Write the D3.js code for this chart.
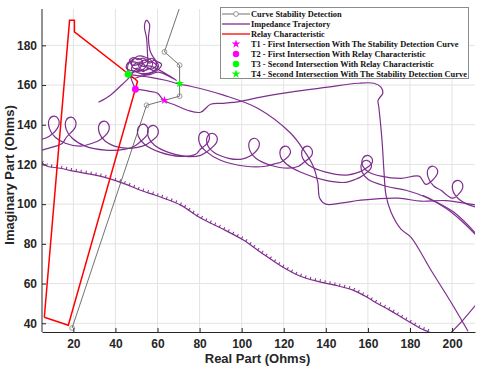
<!DOCTYPE html>
<html>
<head>
<meta charset="utf-8">
<script src="https://cdn.jsdelivr.net/npm/d3@7"></script>
<style>
  body { margin: 0; background: #fff; }
  .tick text { font-family: "Liberation Sans", Arial, sans-serif; font-weight: bold; font-size: 12px; fill: #262626; }
  .legend text { font-family: "Liberation Serif", "Times New Roman", serif; font-weight: bold; font-size: 8.4px; fill: #111; }
</style>
</head>
<body>
<svg id="chart" width="480" height="369"></svg>
<script>
// tick values
const xTicks = [20, 40, 60, 80, 100, 120, 140, 160, 180, 200];
const yTicks = [40, 60, 80, 100, 120, 140, 160, 180];

// relay characteristic (closed polygon)
const relayChar = [[6.2, 43], [17.6, 39], [50.5, 161.8], [49.6, 162.8], [20.5, 186.8], [20.5, 192.6], [18.2, 192.6], [6.2, 43]];

// stability detection curve
const stabilityCurve = [[19.4, 37.6], [54.8, 149.8], [70.5, 154.4], [70.5, 170], [63.3, 176.7], [72.8, 206]];

const trajLower = [[5.2, 120.6], [7.6, 119.1], [13.8, 118.1], [20, 116.6], [28.1, 115.1], [36.2, 113.1], [44.8, 110.1], [51.9, 107.0],
  [59, 104.5], [62.9, 103.0], [71, 99.5], [80.5, 93], [90, 88], [101, 81.8], [109, 75.8], [119.5, 68.3], [127.6, 63.8], [135.7, 61.2],
  [144.3, 59.2], [152.9, 56.7], [158.6, 53.7], [164.3, 50.1], [170.5, 46.5], [175.2, 43.5], [180, 40.5], [184.8, 37.5], [188.1, 36], [190.5, 35]];

const trajLoopsA = [[5.2, 132.7], [8.6, 134.2], [12.9, 139.2], [12.9, 142.8], [11.0, 144.3], [8.6, 142.8], [8.6, 138.2], [11.4, 133.7],
  [16.2, 130.7], [23.3, 129.2], [29.0, 130.7], [32.4, 132.2], [36.7, 136.7], [36.7, 140.3], [34.8, 141.8], [32.4, 140.3], [32.4, 135.7], [35.2, 131.7],
  [41.4, 128.7], [48.1, 128.2], [52.9, 129.2], [55.7, 130.7], [60.0, 134.7], [60.0, 138.2], [58.1, 139.7], [55.7, 138.2], [55.7, 133.7], [58.6, 129.7],
  [65.2, 126.1], [73.3, 124.1], [80.5, 124.6], [83.8, 126.7], [88.1, 131.2], [88.1, 134.2], [86.2, 135.7], [83.8, 134.2], [83.8, 129.7], [86.7, 126.1],
  [93.8, 123.1], [99.5, 122.6], [103.8, 124.1], [108.1, 128.7], [108.1, 131.7], [106.2, 133.2], [103.8, 131.7], [103.8, 127.2], [106.7, 123.1],
  [113.8, 119.6], [121.9, 118.1], [127.1, 119.1], [129.0, 120.6], [133.3, 124.6], [133.3, 127.7], [131.4, 129.2], [129.0, 127.7], [129.0, 123.1], [131.9, 119.6],
  [140.0, 116.1], [149.5, 114.6], [155.7, 116.1], [157.6, 117.1], [161.9, 120.6], [161.9, 123.1], [160.0, 124.6], [157.6, 123.1], [157.6, 119.1], [160.5, 116.1],
  [166.2, 114.1], [175.7, 113.0], [184.3, 114.1], [187.6, 110.0], [192.9, 115.1], [192.9, 117.6], [191.0, 119.1], [188.6, 117.6], [188.6, 113.6], [191.4, 109.0],
  [194.8, 107.0], [197.6, 104.5], [200.5, 103.0], [204.8, 107.5], [204.8, 110.5], [202.9, 112.0], [200.5, 110.5], [200.5, 106.5], [203.3, 102.5],
  [207.1, 100.0], [211.9, 98.4]];

const trajLoopsB = [[5.2, 127.2], [10.0, 128.7], [14.8, 130.7], [16.7, 133.7], [20.9, 138.7], [20.9, 142.3], [19.0, 143.8], [16.6, 142.3], [16.6, 137.7], [19.5, 133.2],
  [25.7, 129.2], [35.2, 127.2], [44.8, 127.7], [49.0, 129.2], [51.0, 130.7], [55.2, 135.2], [55.2, 138.7], [53.3, 140.3], [50.9, 138.7], [50.9, 134.2], [53.8, 130.2],
  [61.4, 126.1], [71.0, 124.1], [78.1, 125.1], [80.0, 127.2], [84.3, 131.7], [84.3, 135.2], [82.4, 136.7], [80.0, 135.2], [80.0, 130.7], [82.9, 126.7],
  [90.0, 122.1], [101.9, 119.1], [111.4, 119.1], [116.7, 120.6], [118.6, 121.1], [122.9, 125.1], [122.9, 127.7], [121.0, 129.2], [118.6, 127.7], [118.6, 123.6], [121.4, 120.1],
  [128.1, 116.1], [140.0, 112.0], [149.5, 111.0], [155.2, 113.0], [157.1, 114.1], [161.4, 118.1], [161.4, 120.6], [159.5, 122.1], [157.1, 120.6], [157.1, 116.6], [160.0, 112.5],
  [168.6, 109.0], [178.1, 107.0], [187.6, 103.5], [197.1, 97.9], [205.2, 90.9], [212.4, 83.3]];

const trajRise = [[49.5, 157.9], [55.7, 156.9], [60.0, 155.9], [62.9, 152.3], [68.6, 149.8], [74.3, 147.3], [80.5, 146.3], [85.2, 150.3], [91.4, 150.8],
  [99.5, 151.8], [109.0, 153.9], [123.3, 156.4], [140.9, 158.9], [155.2, 160.9], [162.9, 160.9], [166.2, 158.9], [167.1, 155.9], [164.8, 152.3], [165.2, 148.8],
  [166.7, 132.2], [167.6, 117.1], [168.6, 104.5], [171.0, 95.9], [175.7, 87.4], [180.5, 83.3], [190.0, 66.7], [199.5, 50.6], [207.6, 36.0]];

const trajFall = [[46.2, 165.4], [56.7, 163.9], [63.8, 162.4], [70.5, 160.4], [75.7, 159.4], [91.4, 154.9], [107.6, 148.3], [123.3, 135.7], [129.5, 127.2],
  [133.8, 119.6], [136.2, 111.0], [137.1, 103.0], [140.0, 100.0], [147.1, 100.5], [156.7, 102.0], [174.3, 103.0], [185.2, 101.5], [197.1, 101.8], [211.4, 99.5]];

const trajCluster = [[49.5, 157.9], [48.1, 161.4], [47.1, 164.4], [45.7, 168.5], [47.1, 172.0], [50.0, 173.5], [52.9, 172.0], [51.9, 169.0], [48.6, 168.5],
  [47.6, 171.0], [50.5, 174.5], [54.3, 174.0], [57.6, 171.5], [56.7, 168.5], [52.9, 167.5], [51.0, 170.0], [53.8, 172.5],
  [56.2, 171.0], [58.6, 172.5], [59.5, 170.0], [57.1, 168.0], [54.3, 169.5], [52.4, 171.5], [49.0, 170.5], [47.6, 168.0], [50.0, 166.8],
  [53.3, 168.0], [55.2, 170.5], [55.2, 176.5], [54.8, 183.6],
  [53.8, 189.6], [54.8, 192.6], [56.2, 190.6], [55.7, 183.6], [56.7, 176.5], [59.0, 172.5], [60.5, 169.5], [57.6, 166.5], [53.8, 165.4], [50.0, 166.5],
  [45.2, 168.5], [46.2, 171.5], [49.5, 171.5], [52.9, 169.5], [56.7, 169.5], [69.0, 162.4], [60.5, 166.5], [56.7, 165.4], [51.9, 164.4], [49.0, 163.4], [46.2, 165.4]];

const trajCluster2 = [[47.6, 166.0], [50.5, 168.0], [53.3, 166.8], [55.7, 168.5], [58.1, 167.2], [60.0, 169.0], [58.6, 171.0], [55.7, 172.0], [53.3, 173.5],
  [50.5, 172.8], [48.6, 173.8], [46.7, 172.5], [48.1, 170.0], [51.4, 170.5], [54.3, 171.5], [57.1, 173.5], [59.5, 172.0], [61.9, 170.5], [60.0, 167.5],
  [56.2, 166.0], [52.4, 165.8]];

const trajTail = [[31.9, 151.3], [37.6, 154.9], [43.3, 160.4], [46.2, 163.4], [48.6, 166.5], [51.9, 167.5]];
const trajRight = [[186, 104.5], [190, 102.5], [200.9, 95.9], [211.5, 85]];
const trajBottomRight = [[199.5, 35.3], [205.5, 42], [211.5, 49.5]];

// intersection points
const intersections = [
  { label: "T1 - First Intersection With The Stability Detection Curve", x: 63.3, y: 152.3, color: "#ff00ff", shape: "star" },
  { label: "T2 - First Intersection With Relay Characteristic", x: 49.5, y: 157.9, color: "#ff00ff", shape: "circle" },
  { label: "T3 - Second Intersection With Relay Characteristic", x: 46.0, y: 165.4, color: "#00ff00", shape: "circle" },
  { label: "T4 - Second Intersection With The Stability Detection Curve", x: 70.5, y: 160.8, color: "#00ff00", shape: "star" }
];

const purple = "#7e2f8e";
const margin = { top: 9, right: 5, bottom: 37, left: 42 };
const width = 480 - margin.left - margin.right;
const height = 369 - margin.top - margin.bottom;

const svg = d3.select("#chart");
const g = svg.append("g").attr("transform", `translate(${margin.left},${margin.top})`);

const x = d3.scaleLinear().domain([5.1, 210.9]).range([0, width]);
const y = d3.scaleLinear().domain([35.6, 198.3]).range([height, 0]);

g.append("clipPath").attr("id", "clip")
  .append("rect").attr("width", width).attr("height", height);

// grid
g.append("g").selectAll("line").data(xTicks).join("line")
  .attr("x1", d => x(d)).attr("x2", d => x(d)).attr("y1", 0).attr("y2", height)
  .attr("stroke", "#e3e3e3");
g.append("g").selectAll("line").data(yTicks).join("line")
  .attr("y1", d => y(d)).attr("y2", d => y(d)).attr("x1", 0).attr("x2", width)
  .attr("stroke", "#e3e3e3");

const plot = g.append("g").attr("clip-path", "url(#clip)");

const smooth = d3.line().x(d => x(d[0])).y(d => y(d[1])).curve(d3.curveCatmullRom.alpha(0.5));
const straight = d3.line().x(d => x(d[0])).y(d => y(d[1]));

// trajectory
[trajLoopsA, trajLoopsB, trajRise, trajFall, trajCluster, trajCluster2, trajTail, trajRight, trajBottomRight, trajLower].forEach(seg => {
  plot.append("path").attr("d", smooth(seg))
    .attr("fill", "none").attr("stroke", purple).attr("stroke-width", 1.2);
});
// little loops along the lower branch
plot.append("path").attr("d", smooth(trajLower))
  .attr("fill", "none").attr("stroke", purple).attr("stroke-width", 3)
  .attr("stroke-dasharray", "1 4").attr("transform", "translate(0,-1.3)");

// relay characteristic
plot.append("path").attr("d", straight(relayChar))
  .attr("fill", "none").attr("stroke", "#ff0000").attr("stroke-width", 1.5);

// stability detection curve
plot.append("path").attr("d", straight(stabilityCurve))
  .attr("fill", "none").attr("stroke", "#4d4d4d").attr("stroke-width", 0.8);
plot.append("g").selectAll("circle").data(stabilityCurve).join("circle")
  .attr("cx", d => x(d[0])).attr("cy", d => y(d[1])).attr("r", 2.4)
  .attr("fill", "none").attr("stroke", "#7f7f7f").attr("stroke-width", 0.8);

// intersection markers
const star = d3.symbol().type(d3.symbolStar).size(24);
plot.append("g").selectAll("path").data(intersections).join("path")
  .attr("d", d => d.shape === "star" ? star() : d3.symbol().type(d3.symbolCircle).size(38)())
  .attr("transform", d => `translate(${x(d.x)},${y(d.y)})`)
  .attr("fill", d => d.color);

// axes
const xAxis = g.append("g").attr("transform", `translate(0,${height})`)
  .call(d3.axisBottom(x).tickValues(xTicks).tickSize(-4).tickSizeOuter(0).tickPadding(7.5));
const yAxis = g.append("g")
  .call(d3.axisLeft(y).tickValues(yTicks).tickSize(-4).tickSizeOuter(0).tickPadding(5));
[xAxis, yAxis].forEach(a => {
  a.select(".domain").attr("stroke", "#262626");
  a.selectAll(".tick line").attr("stroke", "#262626");
});
yAxis.select(".domain").attr("d", `M0,0V${height}`);

svg.append("text").attr("x", 257.5).attr("y", 363).attr("text-anchor", "middle")
  .style("font-family", "Liberation Sans, Arial, sans-serif").style("font-weight", "bold").style("font-size", "13px")
  .attr("fill", "#262626").text("Real Part (Ohms)");
svg.append("text").attr("transform", "translate(14,175) rotate(-90)").attr("text-anchor", "middle")
  .style("font-family", "Liberation Sans, Arial, sans-serif").style("font-weight", "bold").style("font-size", "13px")
  .attr("fill", "#262626").text("Imaginary Part (Ohms)");

// legend
const legend = svg.append("g").attr("class", "legend");
legend.append("rect").attr("x", 220.5).attr("y", 7.5).attr("width", 248).attr("height", 71)
  .attr("fill", "#fff").attr("stroke", "#8c8c8c");

const lineItems = [
  { label: "Curve Stability Detection", color: "#4d4d4d" },
  { label: "Impedance Trajectory", color: purple },
  { label: "Relay Characteristic", color: "#ff0000" }
];
const rowY = i => 14 + i * 10;

lineItems.forEach((d, i) => {
  legend.append("line").attr("x1", 222).attr("x2", 250).attr("y1", rowY(i)).attr("y2", rowY(i))
    .attr("stroke", d.color).attr("stroke-width", i === 0 ? 0.8 : 1.3);
  legend.append("text").attr("x", 251).attr("y", rowY(i)).attr("dy", "0.33em").text(d.label);
});
legend.append("circle").attr("cx", 236).attr("cy", rowY(0)).attr("r", 2.4)
  .attr("fill", "#fff").attr("stroke", "#7f7f7f").attr("stroke-width", 0.8);

intersections.forEach((d, i) => {
  const yy = rowY(i + 3);
  legend.append("path")
    .attr("d", d.shape === "star" ? star() : d3.symbol().type(d3.symbolCircle).size(32)())
    .attr("transform", `translate(236,${yy})`).attr("fill", d.color);
  legend.append("text").attr("x", 251).attr("y", yy).attr("dy", "0.33em").text(d.label);
});
</script>
</body>
</html>
